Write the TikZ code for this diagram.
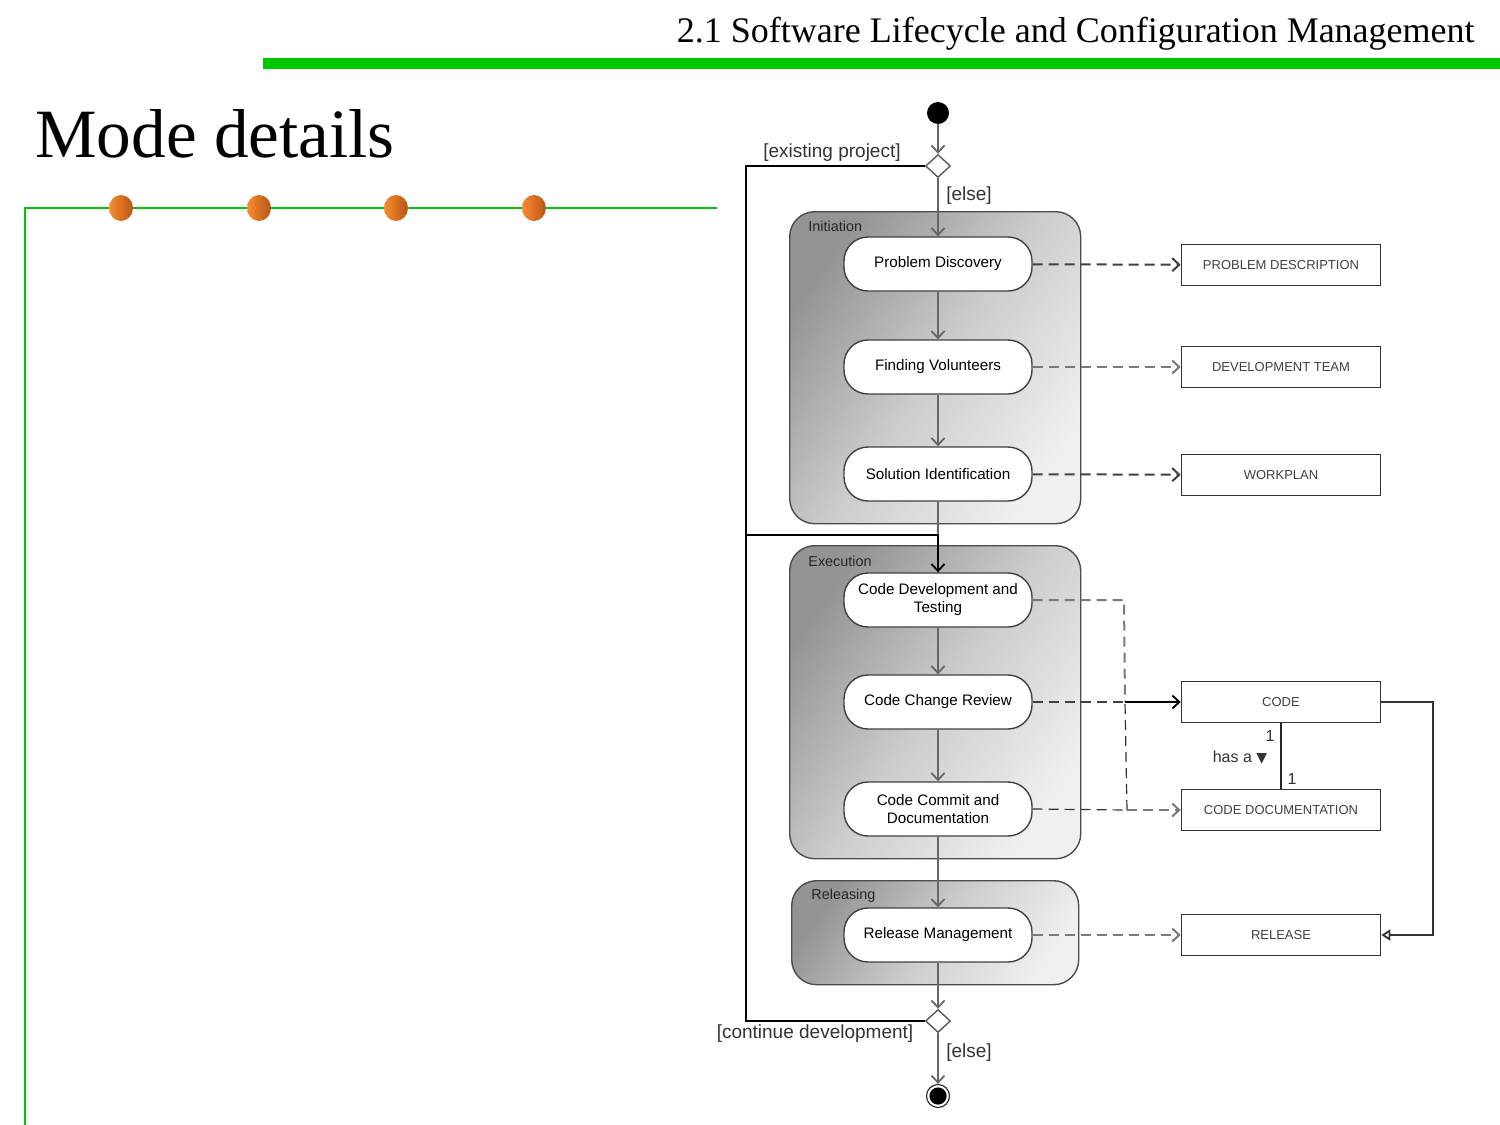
\documentclass[tikz,border=0pt]{standalone}
\usepackage{fontspec}
\setmainfont{Liberation Serif}
\newfontfamily\diag{Liberation Sans}
\newfontfamily\dejavu{DejaVu Sans}
\usetikzlibrary{arrows.meta,shapes.geometric}
\definecolor{barGreen}{RGB}{0,200,0}
\definecolor{dotL}{RGB}{248,140,50}
\definecolor{dotR}{RGB}{185,85,20}
\begin{document}
\begin{tikzpicture}[x=0.5pt,y=-0.5pt,
  grp/.style={draw=black!70, line width=0.7pt, rounded corners=12.5pt,
    top color=black!42, bottom color=black!6, middle color=black!20,
    shading angle=55, anchor=north west, inner sep=0},
  grplabel/.style={anchor=west, inner sep=0, font=\diag\fontsize{7.2}{9}\selectfont, text=black!85},
  act/.style={draw=black!75, fill=white, line width=0.7pt, rounded corners=12pt,
    minimum width=94pt, minimum height=27pt, inner sep=1pt, align=center,
    font=\diag\fontsize{7.6}{9}\selectfont},
  obj/.style={draw=black!80, fill=white, line width=0.8pt, minimum width=99.5pt,
    minimum height=20.5pt, inner sep=0, font=\diag\fontsize{6.5}{8}\selectfont, text=black!75},
  dec/.style={diamond, draw=black!65, fill=white, line width=0.7pt,
    minimum width=12.5pt, minimum height=11.5pt, inner sep=0},
  guard/.style={inner sep=0, font=\diag\fontsize{9.5}{11}\selectfont, text=black!80},
  small/.style={inner sep=0, font=\diag\fontsize{8}{10}\selectfont, text=black!80},
  tip/.style={-{Straight Barb[length=3.5pt,width=6.5pt]}},
  flow/.style={draw=black!60, line width=0.9pt},
  loopline/.style={draw=black, line width=0.9pt},
  dep/.style={draw=black!75, line width=1pt, dash pattern=on 5pt off 3pt},
  deplight/.style={draw=black!52, line width=1pt, dash pattern=on 5pt off 3pt},
  depthin/.style={draw=black!80, line width=0.6pt, dash pattern=on 5pt off 3pt}
]
\useasboundingbox (0,0) rectangle (1500,1125);
\fill[white] (0,0) rectangle (1500,1125);

% header
\node[anchor=base east, inner sep=0, font=\fontsize{18}{20}\selectfont] (hdr) at (1475,42)
  {2.1 Software Lifecycle and Configuration Management};
\fill[barGreen] (263,58) rectangle (1500,69);
\node[anchor=base west, inner sep=0, font=\fontsize{34.6}{36}\selectfont] (title) at (35,157) {Mode details};
\draw[barGreen, line width=1pt] (717,208) -- (25,208) -- (25,1125);
\foreach \x in {121,259,396,534}
  \shade[left color=dotL, right color=dotR] (\x,208) ellipse (6pt and 6.5pt);

% groups
\node[grp, minimum width=145.5pt, minimum height=156pt] (initG) at (789,211) {};
\node[grp, minimum width=145.5pt, minimum height=156.5pt] (execG) at (789,545) {};
\node[grp, minimum width=143.5pt, minimum height=52pt] (relG) at (791,880) {};
\node[grplabel] (initL) at (808,226) {Initiation};
\node[grplabel] (execL) at (808,561) {Execution};
\node[grplabel] (relL) at (811,896) {Releasing};

% control nodes
\node[circle, fill=black, minimum size=11pt, inner sep=0] (start) at (938,113) {};
\node[dec] (d1) at (938,166) {};
\node[dec] (d2) at (938,1021) {};
\node[circle, draw=black!80, line width=0.6pt, fill=white, minimum size=11.5pt, inner sep=0] (end) at (938,1096) {};
\fill[black] (end.center) circle (4.3pt);

% activities
\node[act] (pd) at (938,264) {Problem Discovery};
\node[act] (fv) at (938,367) {Finding Volunteers};
\node[act] (si) at (938,474) {Solution Identification};
\node[act] (cd) at (938,600) {Code Development and\\Testing};
\node[act] (cr) at (938,702) {Code Change Review};
\node[act] (cc) at (938,809) {Code Commit and\\Documentation};
\node[act] (rm) at (938,935) {Release Management};

% objects
\node[obj] (opd) at (1281,265) {PROBLEM DESCRIPTION};
\node[obj] (odt) at (1281,367) {DEVELOPMENT TEAM};
\node[obj] (owp) at (1281,475) {WORKPLAN};
\node[obj] (ocode) at (1281,702) {CODE};
\node[obj] (odoc) at (1281,810) {CODE DOCUMENTATION};
\node[obj] (orel) at (1281,935) {RELEASE};

% coordinates
\coordinate (j1) at (746,535);
\coordinate (j2) at (938,535);
\coordinate (c1) at (1124,600);
\coordinate (c3) at (1127,810);
\coordinate (m) at (1125,702);
\coordinate (r1) at (1433,702);

% flow
\draw[flow, tip] (start) -- (d1);
\draw[flow, tip] (d1) -- (pd);
\draw[flow, tip] (pd) -- (fv);
\draw[flow, tip] (fv) -- (si);
\draw[flow] (si) -- (j2);
\draw[loopline, tip] (j2) -- (cd);
\draw[flow, tip] (cd) -- (cr);
\draw[flow, tip] (cr) -- (cc);
\draw[flow, tip] (cc) -- (rm);
\draw[flow, tip] (rm) -- (d2);
\draw[flow, tip] (d2) -- (end);
\draw[loopline] (d1.west) -| (j1) -- (j2);
\draw[loopline] (d2.west) -| (j1);

% guards
\node[guard] (g1) at (832,153) {[existing project]};
\node[guard] (g2) at (969,196) {[else]};
\node[guard] (g3) at (815,1034) {[continue development]};
\node[guard] (g4) at (969,1053) {[else]};

% object flows
\draw[dep, tip] (pd) -- (opd);
\draw[deplight, tip] (fv) -- (odt);
\draw[dep, tip] (si) -- (owp);
\draw[deplight] (cd.east) -- (c1) -- (m);
\draw[dep] (cr) -- (m);
\draw[depthin] (c3) -- (m);
\draw[draw=black, line width=0.9pt, tip] (m) -- (ocode);
\draw[depthin] (cc.east) -- (c3);
\draw[deplight, tip] (c3) -- (odoc);
\draw[deplight, tip] (rm) -- (orel);

% associations
\draw[draw=black!85, line width=0.9pt] (ocode) -- (odoc);
\draw[draw=black!80, line width=0.9pt, -{Triangle[open, length=4.5pt, width=5.5pt]}] (ocode.east) -- (r1) |- (orel.east);
\node[small] (m1) at (1270,736) {1};
\node[small] (m2) at (1292,779) {1};
\node[small] (hasa) at (1240,758) {has a {\dejavu\fontsize{7}{9}\selectfont ▼}};
\end{tikzpicture}
\end{document}
